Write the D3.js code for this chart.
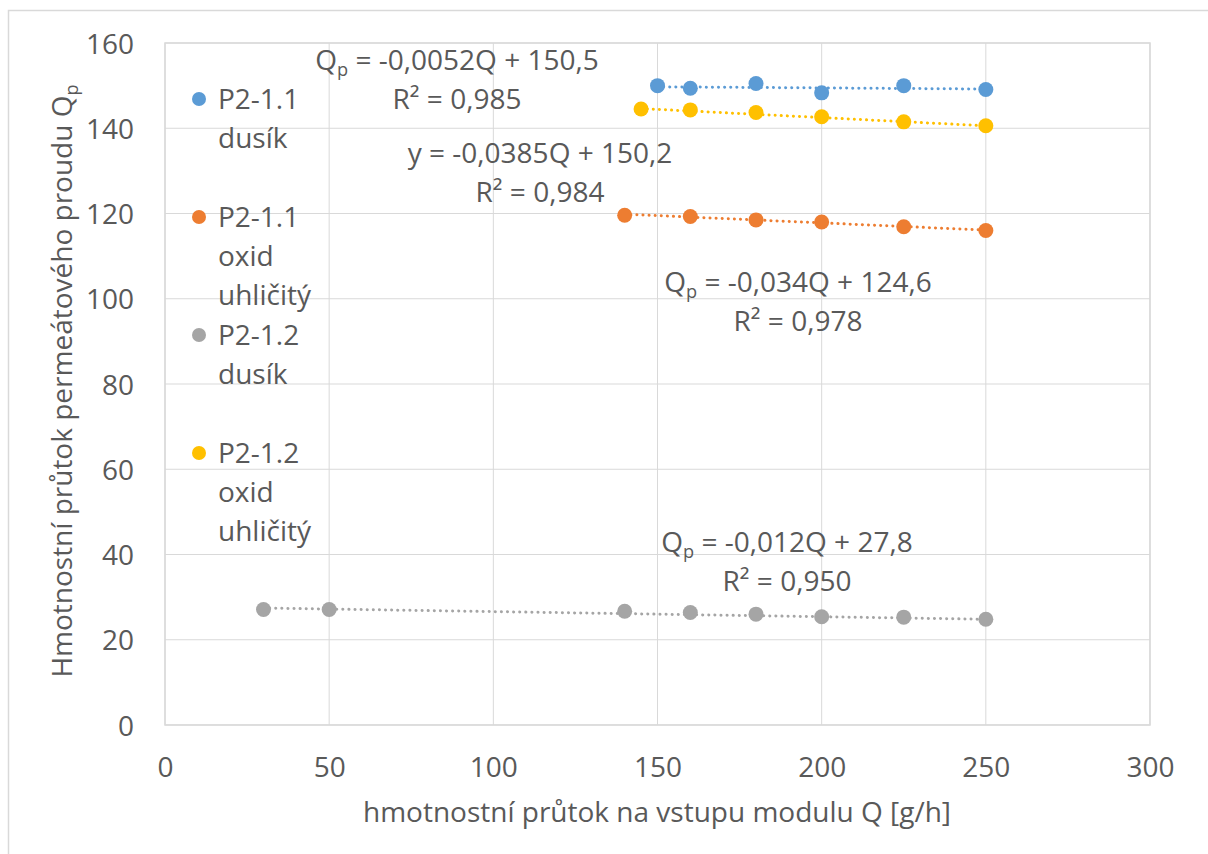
<!DOCTYPE html>
<html>
<head>
<meta charset="utf-8">
<script src="https://cdn.jsdelivr.net/npm/d3@7"></script>
<style>
  body { margin: 0; background: #fff; }
  text { font-family: "Open Sans", sans-serif; fill: #595959; }
</style>
</head>
<body>
<div id="chart"></div>
<script>
// data
var seriesNames = [["P2-1.1", "dusík"], ["P2-1.1", "oxid", "uhličitý"], ["P2-1.2", "dusík"], ["P2-1.2", "oxid", "uhličitý"]];
var colors = ["#5B9BD5", "#ED7D31", "#A5A5A5", "#FFC000"];

var q11N2 = [150, 160, 180, 200, 225, 250];
var qp11N2 = [150.0, 149.4, 150.5, 148.3, 150.0, 149.1];
var q11CO2 = [140, 160, 180, 200, 225, 250];
var qp11CO2 = [119.6, 119.3, 118.5, 118.0, 116.9, 116.0];
var q12N2 = [30, 50, 140, 160, 180, 200, 225, 250];
var qp12N2 = [27.1, 27.1, 26.7, 26.4, 26.0, 25.4, 25.3, 24.8];
var q12CO2 = [145, 160, 180, 200, 225, 250];
var qp12CO2 = [144.5, 144.3, 143.7, 142.7, 141.5, 140.6];

// trendline equations as printed in the chart
var eqPrefix = ["Q", "Q", "Q", "y"];
var eqSub = ["p", "p", "p", ""];
var slopes = [-0.0052, -0.034, -0.012, -0.0385];
var intercepts = [150.5, 124.6, 27.8, 150.2];
var r2 = [0.985, 0.978, 0.950, 0.984];

var xTicks = [0, 50, 100, 150, 200, 250, 300];
var yTicks = [0, 20, 40, 60, 80, 100, 120, 140, 160];

var xs = [q11N2, q11CO2, q12N2, q12CO2];
var ys = [qp11N2, qp11CO2, qp12N2, qp12CO2];

var width = 1208, height = 854;
var pLeft = 165, pRight = 1150, pTop = 43, pBottom = 725;
var fontSize = 28;

var svg = d3.select("#chart").append("svg")
  .attr("width", width)
  .attr("height", height);

svg.append("rect").attr("width", width).attr("height", height).attr("fill", "#fff");

// chart border (runs off the right/bottom edge)
svg.append("rect")
  .attr("x", 8.5).attr("y", 10.5)
  .attr("width", 1400).attr("height", 1000)
  .attr("fill", "none").attr("stroke", "#D9D9D9").attr("stroke-width", 1.5);

var x = d3.scaleLinear().domain([0, 300]).range([pLeft, pRight]);
var y = d3.scaleLinear().domain([0, 160]).range([pBottom, pTop]);

// grid
svg.append("g").selectAll("line").data(xTicks).enter().append("line")
  .attr("x1", d => x(d)).attr("x2", d => x(d))
  .attr("y1", pTop).attr("y2", pBottom)
  .attr("stroke", "#D9D9D9").attr("stroke-width", 1);
svg.append("g").selectAll("line").data(yTicks).enter().append("line")
  .attr("x1", pLeft).attr("x2", pRight)
  .attr("y1", d => y(d)).attr("y2", d => y(d))
  .attr("stroke", "#D9D9D9").attr("stroke-width", 1);
svg.append("rect")
  .attr("x", pLeft).attr("y", pTop)
  .attr("width", pRight - pLeft).attr("height", pBottom - pTop)
  .attr("fill", "none").attr("stroke", "#D9D9D9").attr("stroke-width", 1.5);

// axes (labels only)
var xAxis = d3.axisBottom(x).tickValues(xTicks).tickSize(0).tickPadding(0);
var gx = svg.append("g").attr("transform", "translate(0," + pBottom + ")").call(xAxis);
gx.select(".domain").remove();
gx.selectAll("text").attr("font-size", fontSize).attr("dy", null).attr("y", 52)
  .style("font-family", "Open Sans").attr("fill", "#595959");

var yAxis = d3.axisLeft(y).tickValues(yTicks).tickSize(0).tickPadding(0);
var gy = svg.append("g").attr("transform", "translate(134,0)").call(yAxis);
gy.select(".domain").remove();
gy.selectAll("text").attr("font-size", fontSize).attr("dy", "0.36em").attr("x", 0)
  .style("font-family", "Open Sans").attr("fill", "#595959");

// axis titles
svg.append("text")
  .attr("x", 657).attr("y", 822)
  .attr("text-anchor", "middle").attr("font-size", fontSize)
  .text("hmotnostní průtok na vstupu modulu Q [g/h]");

var yt = svg.append("text")
  .attr("transform", "translate(72,381) rotate(-90)")
  .attr("text-anchor", "middle").attr("font-size", fontSize);
yt.append("tspan").text("Hmotnostní průtok permeátového proudu Q");
yt.append("tspan").attr("font-size", fontSize * 0.65).attr("dy", 6).text("p");

// trendlines
xs.forEach(function (xv, i) {
  var x0 = d3.min(xv), x1 = d3.max(xv);
  svg.append("line")
    .attr("x1", x(x0)).attr("y1", y(slopes[i] * x0 + intercepts[i]))
    .attr("x2", x(x1)).attr("y2", y(slopes[i] * x1 + intercepts[i]))
    .attr("stroke", colors[i]).attr("stroke-width", 3)
    .attr("stroke-linecap", "round").attr("stroke-dasharray", "0.1,6");
});

// markers
xs.forEach(function (xv, i) {
  svg.append("g").selectAll("circle")
    .data(xv.map((q, j) => ({ q: q, v: ys[i][j] })))
    .enter().append("circle")
    .attr("cx", d => x(d.q)).attr("cy", d => y(d.v))
    .attr("r", 7.5).attr("fill", colors[i]);
});

// equation labels
var eqPos = [[457, 70], [798, 292], [787, 552], [540, 163]];
function fmt(v) { return String(v).replace(".", ","); }
eqPos.forEach(function (p, i) {
  var t = svg.append("text").attr("x", p[0]).attr("y", p[1])
    .attr("text-anchor", "middle").attr("font-size", fontSize);
  t.append("tspan").text(eqPrefix[i]);
  if (eqSub[i]) {
    t.append("tspan").attr("font-size", fontSize * 0.65).attr("dy", 6).text(eqSub[i]);
    t.append("tspan").attr("dy", -6).text(" = " + fmt(slopes[i]) + "Q + " + fmt(intercepts[i]));
  } else {
    t.append("tspan").text(" = " + fmt(slopes[i]) + "Q + " + fmt(intercepts[i]));
  }
  svg.append("text").attr("x", p[0]).attr("y", p[1] + 39)
    .attr("text-anchor", "middle").attr("font-size", fontSize)
    .text("R² = " + r2[i].toFixed(3).replace(".", ","));
});

// legend
seriesNames.forEach(function (lines, i) {
  var cy = 99 + i * 118;
  svg.append("circle").attr("cx", 199).attr("cy", cy).attr("r", 7).attr("fill", colors[i]);
  lines.forEach(function (s, k) {
    svg.append("text").attr("x", 218).attr("y", cy + 10 + k * 39)
      .attr("font-size", fontSize).text(s);
  });
});
</script>
</body>
</html>
